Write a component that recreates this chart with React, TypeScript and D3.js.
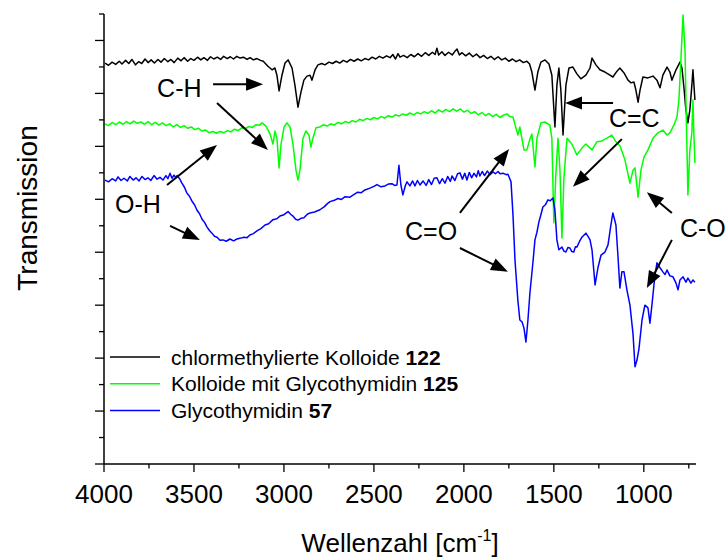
import React from 'react';
import * as d3 from 'd3';

const W = 728;
const H = 558;

// x: wavenumber (cm^-1), y: transmission (arbitrary, offset spectra)
const xMajorTicks = [4000, 3500, 3000, 2500, 2000, 1500, 1000];
const xMinorTicks = [3750, 3250, 2750, 2250, 1750, 1250, 750];
const xLabel = 'Wellenzahl [cm';
const yLabel = 'Transmission';

const seriesNames = ['chlormethylierte Kolloide ', 'Kolloide mit Glycothymidin ', 'Glycothymidin '];
const seriesNumbers = ['122', '125', '57'];
const seriesColors = ['#000000', '#00ff00', '#0000ff'];

const black: [number, number][] = [
  [3994, 89.1], [3975, 88.6], [3955, 89.3], [3935, 88.8], [3915, 89.5], [3900, 88.9], [3880, 89.7], [3862, 89.0],
  [3845, 89.9], [3825, 88.7], [3808, 89.4], [3790, 89.0], [3772, 90.0], [3755, 89.2], [3738, 89.8], [3720, 89.1],
  [3700, 89.9], [3683, 89.3], [3665, 90.1], [3645, 89.4], [3628, 89.9], [3610, 89.2], [3590, 90.2], [3572, 89.6],
  [3555, 90.3], [3535, 89.5], [3518, 90.1], [3500, 89.7], [3480, 90.4], [3462, 89.8], [3445, 90.3], [3425, 89.7],
  [3408, 90.5], [3390, 90.0], [3370, 90.4], [3352, 89.9], [3335, 90.6], [3315, 90.1], [3298, 90.5], [3280, 90.0],
  [3262, 90.6], [3244, 90.2], [3225, 90.4], [3205, 89.9], [3188, 90.3], [3170, 89.8], [3150, 90.1], [3130, 89.7],
  [3115, 89.5], [3089, 88.4], [3066, 87.6], [3050, 88.0], [3039, 86.4], [3027, 82.9], [3011, 86.4], [2994, 89.1],
  [2977, 89.8], [2955, 88.0], [2939, 84.2], [2922, 79.3], [2905, 82.7], [2889, 85.3], [2872, 86.2], [2855, 86.4],
  [2844, 85.3], [2827, 87.6], [2811, 88.7], [2790, 89.0], [2772, 88.7], [2750, 89.3], [2730, 89.0], [2710, 89.5],
  [2690, 89.1], [2670, 89.7], [2650, 89.3], [2630, 89.9], [2610, 89.5], [2590, 90.0], [2570, 89.6], [2550, 90.1],
  [2530, 89.8], [2510, 90.4], [2490, 90.0], [2470, 90.6], [2450, 90.2], [2430, 90.7], [2410, 90.3], [2395, 91.0],
  [2380, 90.0], [2366, 91.2], [2355, 90.4], [2335, 90.8], [2315, 90.3], [2295, 91.0], [2275, 90.5], [2255, 91.2],
  [2235, 90.6], [2215, 91.4], [2195, 90.8], [2175, 91.5], [2160, 91.0], [2150, 92.4], [2140, 90.9], [2122, 91.6],
  [2105, 90.8], [2085, 91.5], [2065, 90.9], [2050, 91.7], [2038, 92.2], [2025, 90.9], [2010, 91.4], [1990, 90.7],
  [1970, 91.3], [1950, 90.5], [1930, 91.1], [1910, 90.3], [1890, 90.8], [1870, 90.1], [1850, 90.6], [1830, 89.9],
  [1810, 90.5], [1790, 89.8], [1770, 90.2], [1750, 89.5], [1730, 90.0], [1710, 89.4], [1690, 89.8], [1670, 89.2],
  [1650, 89.5], [1635, 88.9], [1622, 87.1], [1605, 83.1], [1589, 87.1], [1572, 89.3], [1549, 89.8], [1527, 88.9],
  [1511, 86.4], [1494, 74.9], [1483, 84.2], [1472, 88.0], [1461, 83.1], [1449, 73.1], [1433, 84.2], [1416, 88.0],
  [1394, 88.2], [1372, 86.7], [1350, 85.6], [1322, 86.4], [1299, 88.0], [1288, 90.2], [1266, 88.7], [1244, 87.6],
  [1216, 87.1], [1188, 86.4], [1172, 86.0], [1149, 87.3], [1133, 88.0], [1110, 86.9], [1088, 85.3], [1071, 84.7],
  [1055, 84.9], [1044, 83.1], [1032, 80.4], [1021, 83.1], [1005, 86.0], [977, 85.8], [949, 86.2], [927, 85.3],
  [910, 83.6], [894, 86.4], [871, 88.2], [855, 87.1], [844, 85.3], [821, 87.6], [799, 89.3], [788, 88.0],
  [777, 83.6], [766, 78.7], [755, 75.8], [744, 78.7], [733, 84.2], [727, 87.6], [716, 80.9],
];

const green: [number, number][] = [
  [3994, 75.6], [3975, 75.2], [3955, 75.9], [3935, 75.4], [3915, 76.0], [3895, 75.5], [3875, 76.1], [3855, 75.6],
  [3835, 76.2], [3815, 75.7], [3795, 76.0], [3775, 75.5], [3755, 76.1], [3735, 75.4], [3715, 75.9], [3695, 75.3],
  [3675, 75.8], [3655, 75.2], [3635, 75.6], [3615, 74.9], [3595, 75.4], [3575, 74.8], [3555, 75.2], [3535, 74.6],
  [3515, 74.9], [3495, 74.3], [3475, 74.6], [3455, 74.0], [3435, 74.2], [3415, 73.6], [3395, 73.9], [3375, 73.5],
  [3355, 73.9], [3335, 73.6], [3315, 74.1], [3295, 73.8], [3275, 74.4], [3255, 74.1], [3235, 74.7], [3215, 74.5],
  [3195, 75.0], [3175, 74.8], [3155, 75.4], [3135, 75.3], [3122, 75.8], [3100, 75.1], [3077, 73.3], [3061, 71.1],
  [3050, 74.0], [3039, 72.4], [3027, 65.8], [3016, 71.1], [2999, 74.9], [2983, 75.8], [2966, 74.9], [2950, 71.1],
  [2933, 65.3], [2922, 63.1], [2911, 65.3], [2894, 72.4], [2878, 74.0], [2861, 73.1], [2850, 70.4], [2839, 72.4],
  [2822, 74.7], [2800, 74.9], [2780, 75.4], [2760, 75.1], [2740, 75.6], [2720, 75.3], [2700, 75.9], [2680, 75.6],
  [2660, 76.1], [2640, 75.8], [2620, 76.3], [2600, 76.0], [2580, 76.6], [2560, 76.3], [2540, 76.8], [2520, 76.5],
  [2500, 77.0], [2480, 76.7], [2460, 77.2], [2440, 76.9], [2420, 77.4], [2400, 77.1], [2380, 77.6], [2360, 77.3],
  [2340, 77.8], [2320, 77.5], [2300, 78.0], [2280, 77.6], [2260, 78.1], [2240, 77.8], [2220, 78.3], [2200, 77.9],
  [2180, 78.5], [2160, 78.0], [2140, 78.7], [2120, 78.2], [2100, 78.8], [2080, 78.3], [2060, 78.9], [2040, 78.4],
  [2020, 78.9], [2000, 78.2], [1980, 78.6], [1960, 77.9], [1940, 78.3], [1920, 77.6], [1900, 78.1], [1880, 77.4],
  [1860, 77.9], [1840, 77.2], [1820, 77.7], [1800, 77.0], [1780, 77.5], [1760, 77.8], [1745, 77.2], [1727, 77.1],
  [1711, 74.7], [1700, 73.1], [1689, 74.9], [1666, 69.8], [1650, 69.8], [1633, 72.2], [1622, 73.3], [1605, 66.0],
  [1594, 72.4], [1572, 75.8], [1550, 76.0], [1522, 75.3], [1511, 72.4], [1500, 53.6], [1489, 64.2], [1477, 72.4],
  [1466, 65.3], [1455, 50.2], [1444, 63.6], [1427, 72.4], [1400, 71.1], [1372, 68.7], [1344, 70.2], [1322, 71.1],
  [1288, 69.8], [1261, 71.6], [1233, 71.8], [1205, 72.4], [1178, 73.1], [1155, 71.6], [1133, 70.7], [1105, 67.6],
  [1077, 62.4], [1060, 65.3], [1049, 65.8], [1032, 59.3], [1016, 65.3], [999, 68.2], [977, 69.8], [949, 72.4],
  [922, 73.6], [894, 74.2], [871, 73.1], [855, 73.6], [833, 75.3], [816, 77.1], [805, 80.9], [794, 89.8],
  [782, 99.8], [771, 92.0], [766, 80.9], [760, 69.8], [755, 59.8], [744, 69.8], [733, 73.6], [727, 80.9],
  [722, 73.6], [716, 66.9],
];

const blue: [number, number][] = [
  [3994, 63.1], [3975, 62.7], [3955, 63.4], [3935, 62.9], [3922, 63.8], [3905, 63.0], [3889, 63.5], [3870, 62.9],
  [3856, 63.9], [3838, 63.1], [3822, 63.6], [3805, 62.9], [3789, 63.9], [3772, 63.2], [3756, 63.6], [3740, 63.0],
  [3722, 64.1], [3705, 63.3], [3689, 63.7], [3672, 63.1], [3656, 64.1], [3645, 63.4], [3633, 64.6], [3622, 63.5],
  [3611, 64.2], [3600, 63.6], [3594, 64.1], [3580, 63.4], [3567, 62.4], [3553, 61.5], [3539, 60.2], [3525, 59.5],
  [3511, 58.4], [3497, 57.6], [3483, 56.4], [3469, 55.6], [3455, 54.4], [3441, 53.7], [3428, 52.7], [3414, 51.9],
  [3400, 51.3], [3386, 50.6], [3372, 50.4], [3355, 49.7], [3339, 49.8], [3320, 49.5], [3300, 50.0], [3280, 49.6],
  [3261, 50.0], [3240, 50.2], [3222, 50.4], [3205, 50.3], [3189, 50.9], [3170, 51.2], [3150, 51.8], [3128, 52.3],
  [3105, 53.1], [3085, 53.4], [3061, 54.3], [3040, 54.5], [3022, 55.1], [3000, 55.4], [2977, 56.1], [2963, 55.5],
  [2950, 55.1], [2935, 54.4], [2922, 54.2], [2905, 54.6], [2889, 54.7], [2870, 55.5], [2855, 55.8], [2830, 56.0],
  [2800, 56.5], [2775, 57.2], [2760, 57.8], [2744, 58.3], [2720, 58.6], [2700, 59.0], [2680, 58.8], [2660, 59.4],
  [2633, 59.3], [2610, 59.9], [2590, 60.4], [2570, 60.3], [2550, 60.9], [2522, 61.3], [2500, 61.7], [2483, 62.1],
  [2460, 61.6], [2438, 61.8], [2420, 62.2], [2400, 62.3], [2385, 61.9], [2372, 62.0], [2361, 66.4], [2350, 62.0],
  [2339, 59.8], [2325, 61.9], [2316, 62.7], [2300, 61.8], [2285, 62.9], [2272, 61.8], [2258, 63.0], [2244, 62.0],
  [2227, 62.9], [2210, 61.9], [2195, 63.2], [2180, 62.1], [2165, 63.5], [2150, 63.6], [2135, 62.3], [2120, 63.4],
  [2105, 62.4], [2090, 63.9], [2075, 62.8], [2066, 64.0], [2050, 63.0], [2035, 64.5], [2022, 64.7], [2008, 63.3],
  [1995, 64.6], [1983, 63.1], [1970, 64.8], [1957, 63.6], [1944, 64.6], [1930, 63.8], [1920, 65.2], [1911, 64.0],
  [1898, 65.0], [1885, 64.1], [1870, 65.1], [1855, 64.3], [1838, 64.9], [1825, 64.5], [1810, 65.0], [1799, 64.5],
  [1780, 64.6], [1765, 64.3], [1755, 64.4], [1738, 62.7], [1727, 55.3], [1716, 45.3], [1700, 36.4], [1689, 32.0],
  [1677, 31.6], [1666, 30.2], [1655, 27.1], [1644, 32.0], [1633, 38.0], [1616, 44.9], [1605, 49.8], [1594, 51.5],
  [1583, 53.8], [1572, 55.4], [1561, 57.1], [1547, 57.6], [1533, 58.7], [1520, 58.5], [1505, 59.1], [1494, 56.4],
  [1483, 49.8], [1472, 47.6], [1455, 48.2], [1444, 47.3], [1433, 47.1], [1422, 48.1], [1411, 48.0], [1400, 47.2],
  [1389, 47.1], [1380, 48.3], [1372, 48.2], [1358, 49.4], [1344, 50.4], [1322, 51.3], [1310, 50.6], [1299, 49.8],
  [1288, 47.6], [1271, 39.8], [1255, 43.6], [1238, 46.4], [1216, 47.1], [1199, 48.7], [1183, 53.1], [1172, 55.8],
  [1155, 53.1], [1144, 46.4], [1133, 39.1], [1122, 42.7], [1110, 42.7], [1094, 38.7], [1077, 35.3], [1060, 28.9],
  [1049, 21.6], [1038, 23.1], [1027, 25.6], [1010, 32.0], [994, 35.3], [977, 34.7], [966, 31.3], [955, 35.3],
  [938, 42.0], [927, 44.7], [910, 43.6], [894, 42.7], [882, 42.1], [871, 43.1], [855, 41.8], [838, 41.6],
  [821, 40.2], [810, 38.7], [799, 40.9], [782, 41.6], [766, 40.4], [755, 41.3], [738, 40.2], [727, 40.9],
  [716, 40.4],
];

const seriesData = [black, green, blue];

// annotation texts (anchored at start of baseline) in data coordinates
const annotationTexts = [
  { text: 'C-H', w: 3705, v: 81.6 },
  { text: 'O-H', w: 3939, v: 55.8 },
  { text: 'C=O', w: 2327, v: 49.8 },
  { text: 'C=C', w: 1194, v: 74.9 },
  { text: 'C-O', w: 799, v: 50.4 },
];

// arrows: [fromW, fromV, toW, toV]
const annotationArrows: [number, number, number, number][] = [
  [3394, 84.4, 3116, 84.4],
  [3372, 80.2, 3089, 69.8],
  [3650, 62.0, 3372, 70.9],
  [3633, 52.9, 3467, 49.8],
  [2022, 55.8, 1749, 70.0],
  [2022, 48.0, 1755, 42.7],
  [1171, 80.2, 1438, 80.2],
  [1122, 72.2, 1394, 61.6],
  [844, 55.8, 983, 60.4],
  [844, 49.8, 983, 39.1],
];

const FONT = '"Liberation Sans", Arial, Helvetica, sans-serif';

export default function App() {
  const left = 104, right = 696, top = 14, bottom = 464;
  const x = d3.scaleLinear().domain([4000, 710]).range([left, right]);
  const y = d3.scaleLinear().domain([0, 100]).range([bottom, top]);
  const line = d3.line<[number, number]>().x(d => x(d[0])).y(d => y(d[1])).curve(d3.curveLinear);
  const yTicks = d3.range(0, 18).map(i => (i * 100) / 17);

  const headLen = 17;
  const headHalf = 6.5;

  return (
    <svg width={W} height={H} style={{ position: 'absolute', left: 0, top: 0, background: '#fff' }}
      xmlns="http://www.w3.org/2000/svg">
      <rect x={0} y={0} width={W} height={H} fill="#fff" />
      {/* spectra */}
      {seriesData.map((s, i) => (
        <path key={i} d={line(s) || ''} fill="none" stroke={seriesColors[i]} strokeWidth={1.5}
          strokeLinejoin="round" />
      ))}
      {/* axes */}
      <line x1={left} x2={left} y1={top} y2={bottom} stroke="#000" strokeWidth={1.5} />
      <line x1={left} x2={right} y1={bottom} y2={bottom} stroke="#000" strokeWidth={1.5} />
      {yTicks.map((t, i) => (
        <line key={'yt' + i} x1={left - ((16 - i) % 2 === 0 ? 9 : 5)} x2={left} y1={y(t)} y2={y(t)}
          stroke="#000" strokeWidth={1.3} />
      ))}
      {xMajorTicks.map(t => (
        <line key={'xM' + t} x1={x(t)} x2={x(t)} y1={bottom} y2={bottom + 8} stroke="#000" strokeWidth={1.3} />
      ))}
      {xMinorTicks.map(t => (
        <line key={'xm' + t} x1={x(t)} x2={x(t)} y1={bottom} y2={bottom + 4.5} stroke="#000" strokeWidth={1.3} />
      ))}
      {xMajorTicks.map(t => (
        <text key={'xl' + t} x={x(t)} y={503} textAnchor="middle" fontFamily={FONT} fontSize={26} fill="#000">
          {d3.format('d')(t)}
        </text>
      ))}
      <text x={400} y={552} textAnchor="middle" fontFamily={FONT} fontSize={26} fill="#000">
        {xLabel}
        <tspan fontSize={16} dy={-11}>-1</tspan>
        <tspan dy={11}>]</tspan>
      </text>
      <text transform={`translate(37,208) rotate(-90)`} textAnchor="middle" fontFamily={FONT} fontSize={28}
        fill="#000">{yLabel}</text>
      {/* legend */}
      {seriesNames.map((n, i) => (
        <g key={'lg' + i}>
          <line x1={110} x2={160} y1={357 + i * 26.7} y2={357 + i * 26.7} stroke={seriesColors[i]} strokeWidth={1.5} />
          <text x={171} y={364.5 + i * 26.7} fontFamily={FONT} fontSize={21} fill="#000">
            {n}<tspan fontWeight="bold">{seriesNumbers[i]}</tspan>
          </text>
        </g>
      ))}
      {/* annotations */}
      {annotationTexts.map(a => (
        <text key={a.text} x={x(a.w)} y={y(a.v)} fontFamily={FONT} fontSize={25} fill="#000">{a.text}</text>
      ))}
      {annotationArrows.map((a, i) => {
        const x1 = x(a[0]), y1 = y(a[1]), x2 = x(a[2]), y2 = y(a[3]);
        const dx = x2 - x1, dy = y2 - y1;
        const len = Math.sqrt(dx * dx + dy * dy);
        const ux = dx / len, uy = dy / len;
        const bx = x2 - ux * headLen, by = y2 - uy * headLen;
        const px = -uy * headHalf, py = ux * headHalf;
        return (
          <g key={'ar' + i}>
            <line x1={x1} y1={y1} x2={bx + ux * 2} y2={by + uy * 2} stroke="#000" strokeWidth={2} />
            <polygon points={`${x2},${y2} ${bx + px},${by + py} ${bx - px},${by - py}`} fill="#000" />
          </g>
        );
      })}
    </svg>
  );
}
